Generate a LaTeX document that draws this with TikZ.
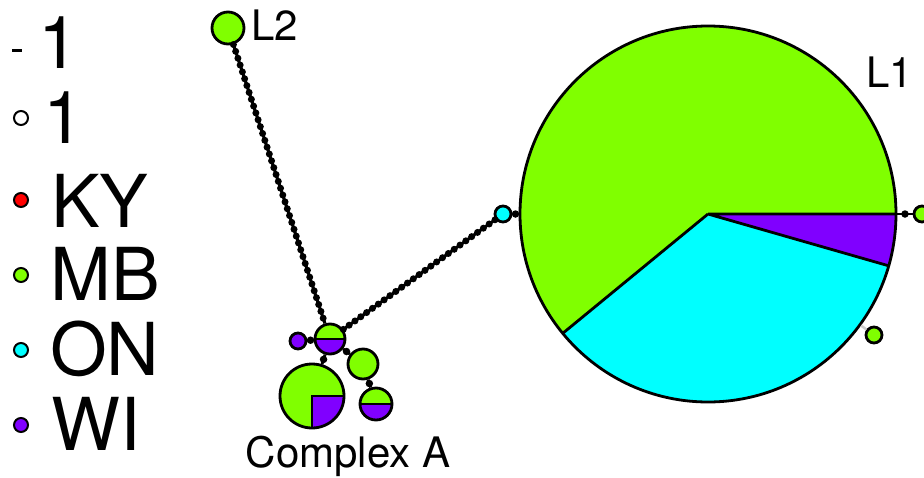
\documentclass[tikz,border=0pt]{standalone}
\usepackage{fontspec}
\setmainfont{TeX Gyre Heros}
\definecolor{mbgreen}{HTML}{80FF00}
\definecolor{oncyan}{HTML}{00FFFF}
\definecolor{wipurple}{HTML}{8000FF}
\definecolor{kyred}{HTML}{FF0000}
\newcommand{\legfont}{\fontsize{73}{73}\selectfont}
\newcommand{\labfont}{\fontsize{42}{42}\selectfont}
\begin{document}
\begin{tikzpicture}[x=1pt,y=-1pt]
    \tikzstyle{hap}=[circle, draw, line width=2.8pt, inner sep=0pt, fill=mbgreen]
    \tikzstyle{key}=[circle, draw, line width=2pt, inner sep=0pt, minimum size=14pt]
    \tikzstyle{keytext}=[anchor=base west, inner sep=0pt, font=\legfont]
    \tikzstyle{half}=[path picture={
        \fill[wipurple] (path picture bounding box.west) rectangle (path picture bounding box.south east);
        \draw[line width=2.8pt] (path picture bounding box.west) -- (path picture bounding box.east);}]
    \tikzstyle{quarter}=[path picture={
        \fill[wipurple] (path picture bounding box.center) rectangle (path picture bounding box.south east);
        \draw[line width=2.8pt] (path picture bounding box.east) -- (path picture bounding box.center) -- (path picture bounding box.south);}]
    \tikzstyle{link}=[line width=2.8pt]
    \tikzstyle{mut}=[circle, fill, inner sep=0pt, minimum size=7.5pt]
    \tikzstyle{chain}=[line width=3pt, postaction={draw, line width=7pt, dash pattern=on 0pt off 7.2pt, line cap=round}]
    \useasboundingbox (0,0) rectangle (924,477);

    \draw[line width=3pt] (12,50) -- (22,50);
    \node[keytext] (t1a) at (38,68) {1};
    \node[key, fill=white] (k1) at (21,118) {};
    \node[keytext] (t1b) at (43,143) {1};
    \node[key, fill=kyred] (kKY) at (21,200) {};
    \node[keytext] (tKY) at (51,227) {KY};
    \node[key, fill=mbgreen] (kMB) at (21,275) {};
    \node[keytext] (tMB) at (50,300) {MB};
    \node[key, fill=oncyan] (kON) at (21,350) {};
    \node[keytext] (tON) at (50,375) {ON};
    \node[key, fill=wipurple] (kWI) at (21,425) {};
    \node[keytext] (tWI) at (51,450) {WI};

    \node[hap, minimum size=376pt, path picture={
        \fill[wipurple] (path picture bounding box.center) -- +(0:200pt) arc[start angle=0, end angle=-16, radius=200pt] -- cycle;
        \fill[oncyan] (path picture bounding box.center) -- +(-16:200pt) arc[start angle=-16, end angle=-140.6, radius=200pt] -- cycle;
        \draw[line width=2.8pt] (path picture bounding box.center) -- +(0:200pt)
            (path picture bounding box.center) -- +(-16:200pt)
            (path picture bounding box.center) -- +(-140.6:200pt);}] (L1) at (708,214) {};
    \node[hap, minimum size=32pt] (L2) at (228,28) {};
    \node[hap, minimum size=16pt, fill=oncyan] (hON) at (503,214) {};
    \node[hap, minimum size=16pt] (hE) at (922,214) {};
    \node[hap, minimum size=16pt] (hF) at (874,335) {};
    \node[hap, minimum size=30pt, half] (hA) at (330,339) {};
    \node[hap, minimum size=16pt, fill=wipurple] (hW) at (298,341) {};
    \node[hap, minimum size=64pt, quarter] (hB) at (312,396) {};
    \node[hap, minimum size=30pt] (hC) at (363,364) {};
    \node[hap, minimum size=32pt, half] (hD) at (376,404) {};

    \node[anchor=base west, inner sep=0pt, font=\labfont] (lL1) at (866,87) {L1};
    \node[anchor=base west, inner sep=0pt, font=\labfont] (lL2) at (251,40) {L2};
    \node[anchor=base, inner sep=0pt, font=\labfont] (lA) at (348,467) {Complex A};

    \draw[chain] (L2) -- (hA);
    \draw[chain] (hA) -- (hON);
    \draw[link] (hON) -- node[mut] {} (L1);
    \draw[link] (L1) -- node[mut] {} (hE);
    \draw[line width=2.5pt, gray!40] (L1) -- (hF);
    \draw[link] (hW) -- node[mut] {} (hA);
    \draw[link] (hA) -- node[mut] {} (hB);
    \draw[link] (hA) -- node[mut] {} (hC);
    \draw[link] (hC) -- node[mut] {} (hD);
\end{tikzpicture}
\end{document}
